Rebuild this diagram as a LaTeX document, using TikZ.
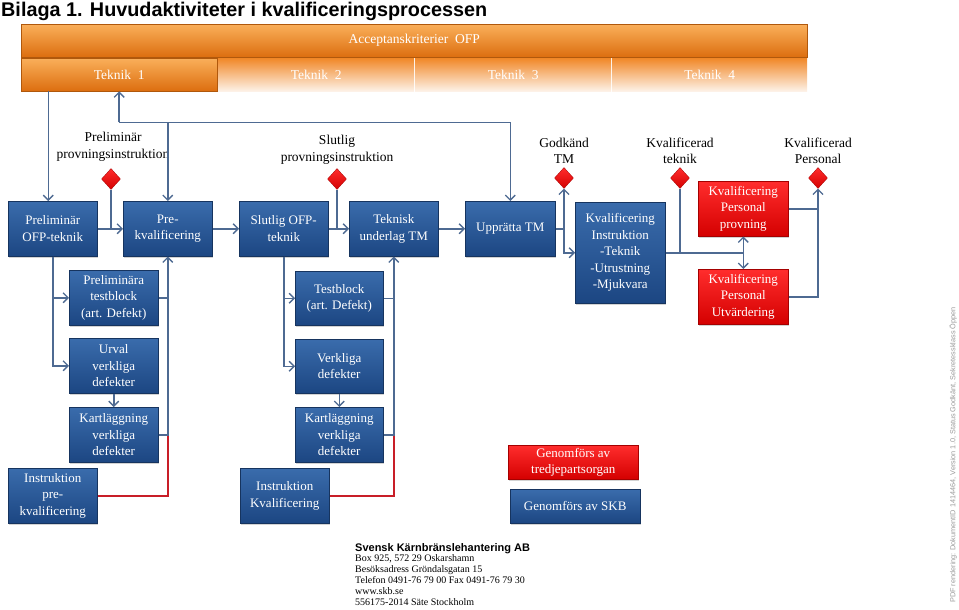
\documentclass[tikz,border=0pt]{standalone}
\usepackage{fontspec}
\setmainfont{Liberation Serif}
\newfontfamily\arialf{Liberation Sans}
\usetikzlibrary{shapes.geometric,arrows.meta,shadows}

\definecolor{bluetop}{RGB}{58,108,172}
\definecolor{bluebot}{RGB}{28,70,130}
\definecolor{blueedge}{RGB}{22,52,95}
\definecolor{redtop}{RGB}{255,45,45}
\definecolor{redbot}{RGB}{212,0,0}
\definecolor{rededge}{RGB}{165,0,0}
\definecolor{orgtop}{RGB}{250,175,90}
\definecolor{orgmid}{RGB}{241,136,40}
\definecolor{orgbot}{RGB}{220,110,15}
\definecolor{orgfade}{RGB}{253,242,232}
\definecolor{linec}{RGB}{78,106,146}
\definecolor{redlinec}{RGB}{200,30,40}

\begin{document}
\begin{tikzpicture}[x=1pt,y=-1pt,
  base/.style={rectangle, anchor=north west, align=center, inner sep=1pt, text=white,
    font=\fontsize{13}{16.5}\selectfont,
    drop shadow={shadow xshift=1.2pt, shadow yshift=-1.5pt, opacity=0.35}},
  bbox/.style={base, top color=bluetop, bottom color=bluebot, draw=blueedge, line width=0.5pt,
    minimum width=89pt, minimum height=55pt},
  rbox/.style={base, top color=redtop, bottom color=redbot, draw=rededge, line width=0.5pt,
    minimum width=90pt, minimum height=55pt},
  obox/.style={rectangle, anchor=north west, inner sep=0pt, text=white, font=\fontsize{13.5}{16}\selectfont,
    top color=orgtop, middle color=orgmid, bottom color=orgbot, draw=orgbot!80!black, line width=0.4pt,
    drop shadow={shadow xshift=1pt, shadow yshift=-1.2pt, opacity=0.3}},
  fbox/.style={rectangle, anchor=north west, inner sep=0pt, text=white, font=\fontsize{13.5}{16}\selectfont,
    top color=orgmid, middle color=orgmid!75!orgfade, bottom color=orgfade},
  diam/.style={diamond, minimum width=19pt, minimum height=21pt, inner sep=0pt,
    top color=redtop, bottom color=redbot, draw=rededge, line width=0.3pt},
  lab/.style={align=center, font=\fontsize{13.5}{16.5}\selectfont, text=black},
  conn/.style={draw=linec, line width=1.5pt},
  arr/.style={conn, -{Straight Barb[length=5pt,width=10pt,line width=1.3pt]}},
  rconn/.style={draw=redlinec, line width=1.5pt}
]
\useasboundingbox (0,0) rectangle (959,610);

% title
\node[anchor=base west, inner sep=0pt, font=\arialf\bfseries\fontsize{19.8}{21}\selectfont] (title) at (1,17)
  {Bilaga 1. Huvudaktiviteter i kvalificeringsprocessen};

% orange banner
\node[obox, minimum width=786pt, minimum height=33pt] (acc) at (21,24) {Acceptanskriterier\ \ OFP};
\node[fbox, minimum width=196pt, minimum height=33pt] (t2) at (218,58) {Teknik\ \ 2};
\node[fbox, minimum width=196pt, minimum height=33pt] (t3) at (415,58) {Teknik\ \ 3};
\node[fbox, minimum width=195pt, minimum height=33pt] (t4) at (612,58) {Teknik\ \ 4};
\node[obox, minimum width=196pt, minimum height=33pt] (t1) at (21,58) {Teknik\ \ 1};

% blue boxes
\node[bbox] (pofp) at (8,201) {Preliminär\\OFP-teknik};
\node[bbox] (prek) at (123,201) {Pre-\\kvalificering};
\node[bbox] (sofp) at (239,201) {Slutlig OFP-\\teknik};
\node[bbox] (tut) at (349,201) {Teknisk\\underlag TM};
\node[bbox, minimum width=90pt] (upp) at (465,201) {Upprätta TM};
\node[bbox, minimum width=90pt, minimum height=101pt] (kins) at (575,202)
  {Kvalificering\\Instruktion\\-Teknik\\-Utrustning\\-Mjukvara};
\node[rbox] (prov) at (698,181) {Kvalificering\\Personal\\provning};
\node[rbox] (utv) at (698,269) {Kvalificering\\Personal\\Utvärdering};

\node[bbox] (ptb) at (69,270) {Preliminära\\testblock\\(art. Defekt)};
\node[bbox] (urv) at (69,338) {Urval\\verkliga\\defekter};
\node[bbox] (kar1) at (69,407) {Kartläggning\\verkliga\\defekter};
\node[bbox] (ins1) at (8,468) {Instruktion\\pre-\\kvalificering};

\node[bbox, minimum width=88pt, minimum height=54pt] (tb) at (295,271) {Testblock\\(art. Defekt)};
\node[bbox, minimum width=88pt, minimum height=54pt] (vd) at (295,339) {Verkliga\\defekter};
\node[bbox, minimum width=88pt] (kar2) at (295,407) {Kartläggning\\verkliga\\defekter};
\node[bbox] (ins2) at (240,468) {Instruktion\\Kvalificering};

% legend
\node[rbox, minimum width=130pt, minimum height=34pt] (leg1) at (508,445) {Genomförs av\\tredjepartsorgan};
\node[bbox, minimum width=130pt, minimum height=34pt] (leg2) at (510,489) {Genomförs av SKB};

% diamonds and labels
\node[diam] (d1) at (111,179) {};
\node[diam] (d2) at (337,179) {};
\node[diam] (d3) at (564,178) {};
\node[diam] (d4) at (680,178) {};
\node[diam] (d5) at (818,178) {};
\node[lab] (l1) at (113,147) {Preliminär\\provningsinstruktion};
\node[lab] (l2) at (337,150) {Slutlig\\provningsinstruktion};
\node[lab] (l3) at (564,151) {Godkänd\\TM};
\node[lab] (l4) at (680,151) {Kvalificerad\\teknik};
\node[lab] (l5) at (818,151) {Kvalificerad\\Personal};

% top connectors
\coordinate (p48) at ([xshift=-4.5pt]pofp.north);
\draw[arr] (p48 |- t1.south) -- (p48);
\coordinate (fb) at ([yshift=-31pt]t1.south);
\draw[arr] (fb) -- (t1.south);
\draw[arr] (fb) -| (upp.north);
\draw[arr] (fb -| prek.north) -- (prek.north);

% main row
\draw[arr] (pofp.east) -- (prek.west);
\draw[conn] (d1.south) -- (d1.south |- pofp.east);
\draw[arr] (prek.east) -- (sofp.west);
\draw[arr] (sofp.east) -- (tut.west);
\draw[conn] (d2.south) -- (d2.south |- sofp.east);
\draw[arr] (tut.east) -- (upp.west);
\draw[arr] (upp.east) -| (d3.south);
\draw[arr] (upp.east -| d3.south) |- (kins.west);
\coordinate (j) at (prov.south |- kins.east);
\draw[conn] (kins.east) -- (j);
\draw[conn] (d4.south) -- (d4.south |- kins.east);
\draw[arr] (j) -- (prov.south);
\draw[arr] (j) -- (utv.north);
\draw[conn] (prov.east) -- (prov.east -| d5.south);
\draw[arr] (utv.east) -| (d5.south);

% left column
\draw[arr] (pofp.south) |- (ptb.west);
\draw[arr] (pofp.south) |- (urv.west);
\draw[arr] (urv.south) -- (kar1.north);
\draw[conn] (ptb.east) -- (ptb.east -| prek.south);
\draw[rconn] (ins1.east) -| (kar1.east -| prek.south);
\draw[arr] (kar1.east) -| (prek.south);

% middle column
\draw[arr] (sofp.south) |- (tb.west);
\draw[arr] (sofp.south) |- (vd.west);
\draw[arr] (vd.south) -- (kar2.north);
\draw[conn] (tb.east) -- (tb.east -| tut.south);
\draw[rconn] (ins2.east) -| (kar2.east -| tut.south);
\draw[arr] (kar2.east) -| (tut.south);

% footer
\node[anchor=base west, inner sep=0pt, font=\arialf\bfseries\fontsize{11}{12}\selectfont] (f0) at (355,551)
  {Svensk Kärnbränslehantering AB};
\foreach \t [count=\i] in {{Box 925, 572 29 Oskarshamn},{Besöksadress Gröndalsgatan 15},
  {Telefon 0491-76 79 00 Fax 0491-76 79 30},{www.skb.se},{556175-2014 Säte Stockholm}}
  \node[anchor=base west, inner sep=0pt, font=\fontsize{10}{11}\selectfont] (f\i) at (355,{550+11.1*\i}) {\t};

% side text
\node[rotate=90, inner sep=0pt, text=gray!80, font=\arialf\fontsize{7.3}{8}\selectfont] (pdf) at (953,455)
  {PDF rendering: DokumentID 1414464, Version 1.0, Status Godkänt, Sekretessklass Öppen};
\end{tikzpicture}
\end{document}
